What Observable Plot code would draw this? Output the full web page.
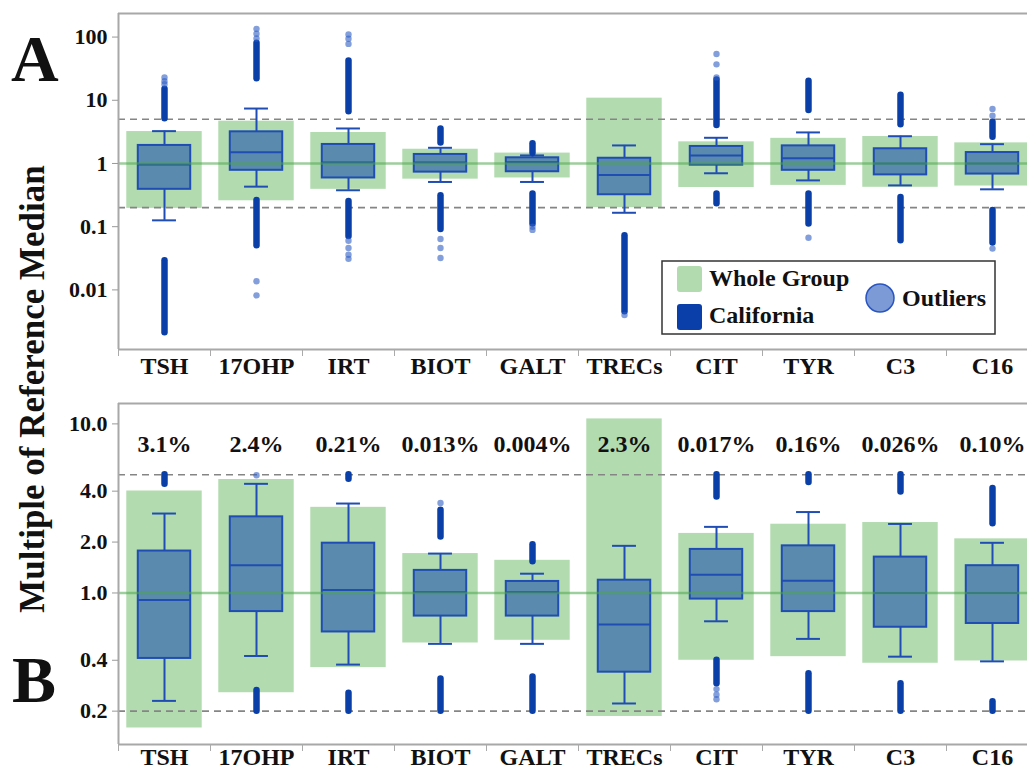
<!DOCTYPE html>
<html><head><meta charset="utf-8">
<script src="https://cdn.jsdelivr.net/npm/d3@7"></script>
<script src="https://cdn.jsdelivr.net/npm/@observablehq/plot@0.6"></script>
<style>
html,body{margin:0;padding:0;background:#fff;}
#wrap{position:relative;width:1027px;height:769px;overflow:hidden;font-family:"Liberation Serif",serif;}
#wrap > svg{position:absolute;left:0;}
</style></head><body><div id="wrap"></div>
<script>
const categories = ["TSH","17OHP","IRT","BIOT","GALT","TRECs","CIT","TYR","C3","C16"];
const thresholds = [0.2, 5];
const reference = [1];

// ---- Panel A ----
const wholeLoA = [0.195,0.257,0.39,0.565,0.59,0.2,0.417,0.45,0.42,0.44];
const wholeHiA = [3.2,4.67,3.09,1.68,1.46,10.8,2.2,2.5,2.67,2.12];
const q1A      = [0.39,0.78,0.59,0.73,0.74,0.32,0.94,0.78,0.66,0.68];
const medA     = [0.96,1.51,1.04,1.04,1.05,0.66,1.34,1.21,1.0,1.0];
const q3A      = [1.93,3.17,2.0,1.39,1.23,1.21,1.86,1.9,1.71,1.49];
const whiskLoA = [0.126,0.43,0.377,0.51,0.51,0.166,0.70,0.54,0.45,0.39];
const whiskHiA = [3.25,7.4,3.58,1.77,1.34,1.93,2.55,3.1,2.7,2.02];
// dense outlier runs: [category, low, high]
const denseA = [
  ["TSH",5.1,15],["TSH",0.0021,0.029],
  ["17OHP",22,80],["17OHP",0.05,0.26],
  ["IRT",6.6,42],["IRT",0.07,0.25],
  ["BIOT",2.1,3.5],["BIOT",0.09,0.31],
  ["GALT",1.45,2.05],["GALT",0.11,0.33],
  ["TRECs",0.0045,0.072],
  ["CIT",4.0,21],["CIT",0.23,0.33],
  ["TYR",6.9,20],["TYR",0.11,0.33],
  ["C3",4.1,12],["C3",0.06,0.29],
  ["C16",2.6,4.5],["C16",0.055,0.18]
];
// isolated outliers: [category, value]
const sparseA = [
  ["TSH",18],["TSH",20],["TSH",23],
  ["17OHP",95],["17OHP",113],["17OHP",135],["17OHP",0.0137],["17OHP",0.0082],
  ["IRT",78],["IRT",94],["IRT",110],["IRT",0.06],["IRT",0.046],["IRT",0.036],["IRT",0.031],
  ["BIOT",0.064],["BIOT",0.046],["BIOT",0.032],
  ["GALT",0.1],["GALT",0.089],
  ["TRECs",0.004],
  ["CIT",23],["CIT",37],["CIT",54],
  ["TYR",0.067],
  ["C16",5.7],["C16",7.3],["C16",0.045]
];
const yTicksA = [0.01,0.1,1,10,100];
const yTickLabelsA = ["0.01","0.1","1","10","100"];

// ---- Panel B ----
const wholeLoB = [0.159,0.257,0.362,0.506,0.525,0.186,0.40,0.42,0.384,0.396];
const wholeHiB = [4.01,4.69,3.21,1.71,1.56,10.7,2.25,2.55,2.61,2.09];
const q1B      = [0.41,0.776,0.588,0.73,0.73,0.34,0.92,0.776,0.627,0.66];
const medB     = [0.91,1.46,1.04,1.01,1.01,0.65,1.28,1.18,1.0,1.0];
const q3B      = [1.77,2.82,1.97,1.36,1.17,1.19,1.81,1.90,1.63,1.45];
const whiskLoB = [0.23,0.424,0.377,0.50,0.50,0.222,0.68,0.535,0.42,0.394];
const whiskHiB = [2.95,4.42,3.38,1.71,1.30,1.90,2.46,3.01,2.56,1.98];
const denseB = [
  ["TSH",4.4,5.0],
  ["17OHP",0.2,0.265],
  ["IRT",4.7,5.0],["IRT",0.2,0.255],
  ["BIOT",2.14,3.08],["BIOT",0.2,0.31],
  ["GALT",1.53,1.93],["GALT",0.2,0.318],
  ["CIT",3.7,5.0],["CIT",0.29,0.40],
  ["TYR",4.5,5.0],["TYR",0.2,0.333],
  ["C3",3.96,5.0],["C3",0.2,0.29],
  ["C16",2.57,4.15],["C16",0.2,0.227]
];
const sparseB = [["17OHP",4.97],["BIOT",3.41],["CIT",0.27],["CIT",0.25],["CIT",0.235]];
const yTicksB = [0.2,0.4,1,2,4,10];
const yTickLabelsB = ["0.2","0.4","1.0","2.0","4.0","10.0"];
const pctLabels = ["3.1%","2.4%","0.21%","0.013%","0.004%","2.3%","0.017%","0.16%","0.026%","0.10%"];
const pctLevel = 7.6;

const FONT = "'Liberation Serif', 'DejaVu Serif', serif";
const GREEN = "#b3dbb0", BOXFILL = "#5a8aad", BOXSTROKE = "#1f4db3", DENSE = "#0a3fa8", SPARSE = "#2f5fc4";

function panel(o) {
  const ci = c => categories.indexOf(c) + 0.5;
  const rows = categories.map((c, i) => ({
    c, x: i + 0.5, lo: o.lo[i], hi: o.hi[i], q1: o.q1[i], med: o.med[i], q3: o.q3[i],
    wl: o.wl[i], wh: o.wh[i], pct: o.pct ? o.pct[i] : null
  }));
  const dense = o.dense.map(([c, a, b]) => ({x: ci(c), a, b}));
  const sparse = o.sparse.map(([c, v]) => ({x: ci(c), v}));
  const bounds = d3.range(categories.length);
  const centers = categories.map((c, i) => i + 0.5);
  const marks = [
    Plot.rect(rows, {x1: d => d.x - 0.41, x2: d => d.x + 0.41, y1: "lo", y2: "hi", fill: GREEN}),
    Plot.ruleY(thresholds, {stroke: "#858585", strokeWidth: 1.6, strokeDasharray: "7,5"}),
    Plot.ruleX(rows, {x: "x", y1: "wl", y2: "q1", stroke: BOXSTROKE, strokeWidth: 2}),
    Plot.ruleX(rows, {x: "x", y1: "q3", y2: "wh", stroke: BOXSTROKE, strokeWidth: 2}),
    Plot.ruleY(rows, {y: "wl", x1: d => d.x - 0.13, x2: d => d.x + 0.13, stroke: BOXSTROKE, strokeWidth: 2}),
    Plot.ruleY(rows, {y: "wh", x1: d => d.x - 0.13, x2: d => d.x + 0.13, stroke: BOXSTROKE, strokeWidth: 2}),
    Plot.rect(rows, {x1: d => d.x - 0.285, x2: d => d.x + 0.285, y1: "q1", y2: "q3", fill: BOXFILL, stroke: BOXSTROKE, strokeWidth: 2}),
    Plot.ruleY(rows, {y: "med", x1: d => d.x - 0.285, x2: d => d.x + 0.285, stroke: BOXSTROKE, strokeWidth: 2}),
    Plot.ruleY(reference, {stroke: "#4ca64c", strokeOpacity: 0.55, strokeWidth: 2.5}),
    Plot.ruleX(dense, {x: "x", y1: "a", y2: "b", stroke: DENSE, strokeWidth: 6.5, strokeLinecap: "round"}),
    Plot.dot(sparse, {x: "x", y: "v", r: 3.2, fill: SPARSE, fillOpacity: 0.6, stroke: "none"}),
    // open frame: top, bottom and left edges only
    Plot.ruleY(o.yDomain, {stroke: "#a8a8a8", strokeWidth: 2}),
    Plot.ruleX([0], {stroke: "#a8a8a8", strokeWidth: 2}),
    Plot.axisY({ticks: o.yTicks, tickFormat: d => o.yLabels[o.yTicks.indexOf(d)], tickSize: 6, tickPadding: 5,
      stroke: "#999", fill: "#111", fontSize: 22, fontWeight: "bold", label: null}),
    Plot.axisX({ticks: bounds, tickFormat: () => "", tickSize: 7, stroke: "#aaa", label: null}),
    Plot.axisX({ticks: centers, tickFormat: d => categories[Math.floor(d)], tickSize: 0, tickPadding: o.xPad,
      fill: "#111", fontSize: 24, fontWeight: "bold", label: null})
  ];
  if (o.pct) marks.push(Plot.text(rows, {x: "x", y: () => pctLevel, text: "pct", fontSize: 24, fontWeight: "bold", fill: "#111"}));
  return Plot.plot({
    width: 1027, height: o.height,
    marginLeft: 118, marginRight: -11, marginTop: o.mt, marginBottom: o.mb,
    style: {fontFamily: FONT, background: "transparent", overflow: "hidden", color: "#111"},
    x: {type: "linear", domain: [0, categories.length]},
    y: {type: "log", domain: o.yDomain},
    marks
  });
}

const wrap = document.getElementById("wrap");
const svgA = panel({lo: wholeLoA, hi: wholeHiA, q1: q1A, med: medA, q3: q3A, wl: whiskLoA, wh: whiskHiA,
  dense: denseA, sparse: sparseA, yTicks: yTicksA, yLabels: yTickLabelsA, yDomain: [0.00114, 236],
  height: 380, mt: 13, mb: 31, xPad: 7});
svgA.style.top = "0px";
wrap.appendChild(svgA);
const svgB = panel({lo: wholeLoB, hi: wholeHiB, q1: q1B, med: medB, q3: q3B, wl: whiskLoB, wh: whiskHiB,
  dense: denseB, sparse: sparseB, yTicks: yTicksB, yLabels: yTickLabelsB, yDomain: [0.127, 13.2],
  height: 389, mt: 23, mb: 25, xPad: 3, pct: pctLabels});
svgB.style.top = "380px";
wrap.appendChild(svgB);

// overlay: panel letters, shared y title, legend
const ov = d3.select(wrap).append("svg").attr("width", 1027).attr("height", 769)
  .style("top", "0px").style("pointer-events", "none")
  .style("font-family", FONT).style("font-weight", "bold").attr("fill", "#111");
ov.append("text").attr("x", 11).attr("y", 81).attr("font-size", 66).text("A");
ov.append("text").attr("x", 12).attr("y", 702).attr("font-size", 66).text("B");
ov.append("text").attr("transform", "translate(44,389) rotate(-90)").attr("text-anchor", "middle")
  .attr("font-size", 35).text("Multiple of Reference Median");
const lg = ov.append("g");
lg.append("rect").attr("x", 662).attr("y", 261).attr("width", 333).attr("height", 73)
  .attr("fill", "#fff").attr("stroke", "#333").attr("stroke-width", 1.5);
lg.append("rect").attr("x", 677).attr("y", 266).attr("width", 25).attr("height", 26).attr("rx", 3).attr("fill", GREEN);
lg.append("rect").attr("x", 677).attr("y", 304).attr("width", 25).attr("height", 26).attr("rx", 3).attr("fill", "#0a3ea8");
lg.append("text").attr("x", 709).attr("y", 286).attr("font-size", 24).text("Whole Group");
lg.append("text").attr("x", 709).attr("y", 323).attr("font-size", 24).text("California");
lg.append("circle").attr("cx", 880).attr("cy", 298).attr("r", 14).attr("fill", "#7c9ad6").attr("stroke", "#2a55c0").attr("stroke-width", 1.5);
lg.append("text").attr("x", 902).attr("y", 306).attr("font-size", 24).text("Outliers");
</script></body></html>
